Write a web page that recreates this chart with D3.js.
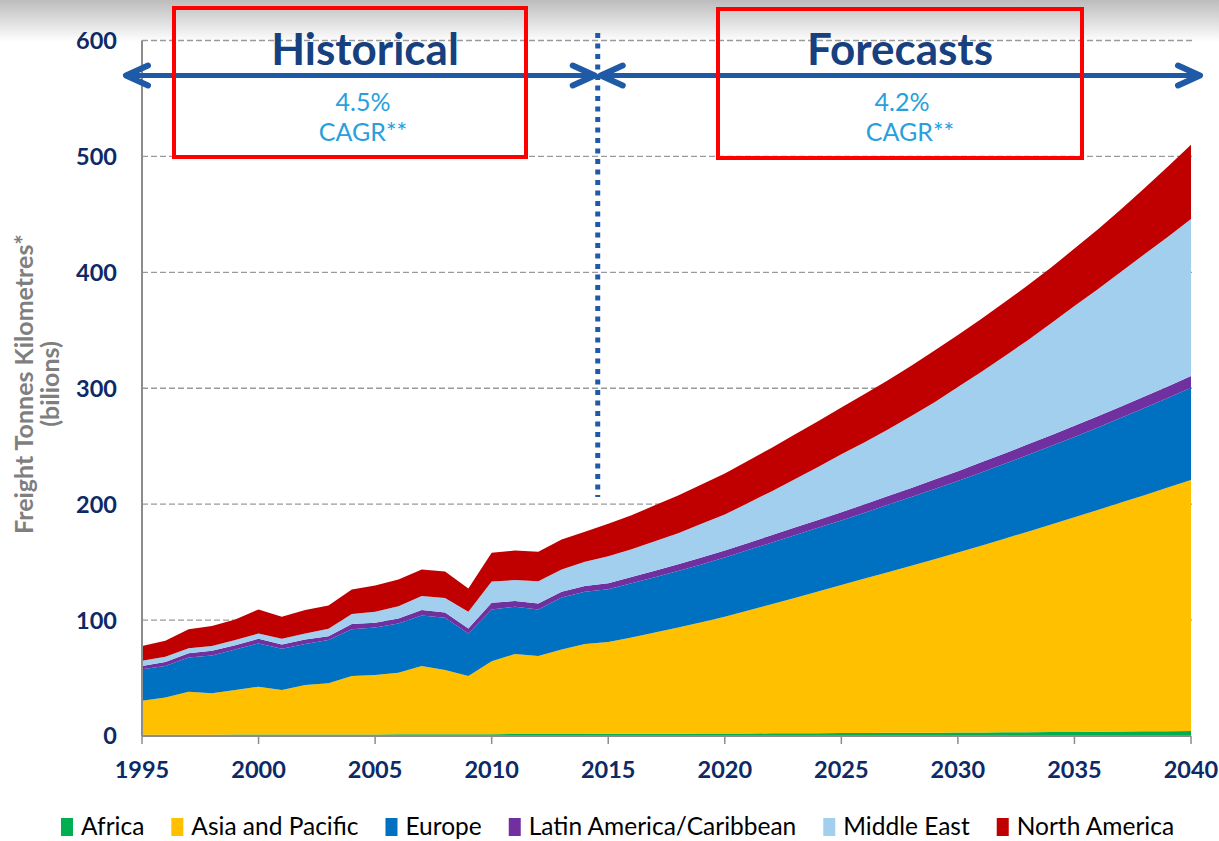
<!DOCTYPE html>
<html><head><meta charset="utf-8">
<script src="https://cdn.jsdelivr.net/npm/d3@7"></script>
<style>body{margin:0;background:#fff;} svg{display:block;}</style>
</head><body>
<svg id="chart" width="1219" height="841"></svg>
<script>
const years = [1995,1996,1997,1998,1999,2000,2001,2002,2003,2004,2005,2006,2007,2008,2009,2010,2011,2012,2013,2014,2015,
  2016,2017,2018,2019,2020,2021,2022,2023,2024,2025,2026,2027,2028,2029,2030,2031,2032,2033,2034,2035,2036,2037,2038,2039,2040];
const seriesNames = ["Africa","Asia and Pacific","Europe","Latin America/Caribbean","Middle East","North America"];
const africa = [1.0,1.0,1.1,1.1,1.2,1.2,1.2,1.3,1.3,1.4,1.4,1.5,1.5,1.5,1.5,1.6,1.7,1.7,1.8,1.8,1.9,
  1.9,2.0,2.0,2.1,2.2,2.2,2.3,2.4,2.4,2.5,2.6,2.7,2.8,2.9,3.0,3.1,3.2,3.3,3.4,3.5,3.7,3.8,4.0,4.2,4.4];
const asiaPacific = [29.4,32.3,37.1,35.7,38.5,41.3,38.5,42.7,44.1,50.3,51.2,53.1,58.8,55.4,50.2,62.8,69.0,67.3,72.9,77.5,79.1,
  83.1,87.3,91.7,96.1,100.7,106.0,111.3,116.6,122.2,127.8,133.2,138.6,144.1,149.6,155.2,161.1,167.0,173.0,179.1,185.2,191.3,197.6,203.8,210.1,216.5];
const europe = [27.1,27.0,29.6,32.7,35.0,37.4,35.6,35.3,37.4,40.3,40.9,42.5,43.7,45.1,36.8,44.8,40.8,40.2,44.8,45.1,45.6,
  46.8,47.7,48.7,49.8,51.1,52.2,53.2,54.2,55.0,55.7,56.9,58.1,59.2,60.5,61.8,63.2,64.6,66.1,67.6,69.3,71.2,73.1,75.2,77.3,79.6];
const latinAmerica = [2.8,3.5,3.5,4.1,3.5,4.0,3.7,4.0,3.3,4.6,4.3,4.3,4.6,4.6,4.3,5.7,4.9,5.2,4.9,4.9,5.1,
  5.4,5.6,5.8,6.0,6.1,6.2,6.4,6.6,6.8,7.0,7.3,7.6,7.9,8.2,8.5,8.8,9.0,9.2,9.4,9.6,9.7,9.8,9.9,10.0,10.1];
const middleEast = [4.6,4.6,4.3,4.0,4.6,4.6,4.9,5.2,6.4,8.6,9.4,10.6,12.1,12.4,14.4,18.4,18.1,19.2,19.3,21.0,23.3,
  23.8,25.4,26.8,29.0,30.9,34.4,37.8,41.7,45.6,50.0,53.5,57.5,62.0,66.8,72.5,77.8,83.7,89.9,96.5,103.4,109.6,116.2,122.6,128.9,135.4];
const northAmerica = [12.7,13.8,16.4,17.2,17.8,20.7,19.0,20.1,20.1,21.2,22.6,23.0,23.0,23.0,20.1,24.7,25.5,25.3,25.8,25.8,28.0,
  29.5,31.0,32.5,34.0,35.5,36.5,37.5,38.5,39.5,40.5,41.5,42.5,43.5,44.5,45.0,45.8,46.6,47.4,48.2,49.5,51.5,54.0,57.0,60.5,64.0];
const yTicks = [0,100,200,300,400,500,600];
const xTicks = [1995,2000,2005,2010,2015,2020,2025,2030,2035,2040];
const splitYear = 2014.55;
const historicalTitle = "Historical", forecastTitle = "Forecasts";
const historicalCagr = "4.5%", forecastCagr = "4.2%", cagrText = "CAGR**";
const yTitle1 = "Freight Tonnes Kilometres*", yTitle2 = "(bilions)";
const colors = ["#00b050","#ffc000","#0070c0","#7030a0","#a3cfef","#c00000"];

const svg = d3.select("#chart");
const defs = svg.append("defs");
const grad = defs.append("linearGradient").attr("id","topgrad").attr("x1",0).attr("y1",0).attr("x2",0).attr("y2",1);
grad.append("stop").attr("offset","0%").attr("stop-color","#bcbcbc");
grad.append("stop").attr("offset","100%").attr("stop-color","#ffffff");
svg.append("rect").attr("x",0).attr("y",0).attr("width",1219).attr("height",42).attr("fill","url(#topgrad)");

const x = d3.scaleLinear().domain([1995,2040]).range([142,1191]);
const y = d3.scaleLinear().domain([0,600]).range([736,40.5]);

const allSeries = [africa, asiaPacific, europe, latinAmerica, middleEast, northAmerica];
const rows = years.map((yr,i) => {
  const r = {year: yr};
  seriesNames.forEach((n,k) => r[n] = allSeries[k][i]);
  return r;
});
const stacked = d3.stack().keys(seriesNames)(rows);

// gridlines
svg.append("g").selectAll("line").data(yTicks.filter(t => t > 0)).join("line")
  .attr("x1", x(1995)).attr("x2", 1195).attr("y1", d => y(d)).attr("y2", d => y(d))
  .attr("stroke","#9a9a9a").attr("stroke-width",1.3).attr("stroke-dasharray","6,3");

// areas
const area = d3.area().x(d => x(d.data.year)).y0(d => y(d[0])).y1(d => y(d[1]));
svg.append("g").selectAll("path").data(stacked).join("path")
  .attr("d", area).attr("fill", (d,i) => colors[i]);

// axes
svg.append("line").attr("x1", x(1995)).attr("x2", x(1995)).attr("y1", y(600)).attr("y2", y(0))
  .attr("stroke","#8c8c8c").attr("stroke-width",2);
svg.append("line").attr("x1", x(1995)).attr("x2", x(2040)).attr("y1", y(0)).attr("y2", y(0))
  .attr("stroke","#8c8c8c").attr("stroke-width",2);
svg.append("g").selectAll("line").data(xTicks).join("line")
  .attr("x1", d => x(d)).attr("x2", d => x(d)).attr("y1", y(0)).attr("y2", y(0) + 8)
  .attr("stroke","#8c8c8c").attr("stroke-width",1.5);

const navy = "#0c2a66";
svg.append("g").selectAll("text").data(xTicks).join("text")
  .attr("x", d => x(d)).attr("y", 778).attr("text-anchor","middle")
  .attr("font-family","Lato, sans-serif").attr("font-weight","bold").attr("font-size",23.5)
  .attr("fill", navy).text(d => d);
svg.append("g").selectAll("text").data(yTicks).join("text")
  .attr("x", 117).attr("y", d => y(d)).attr("dy","0.36em").attr("text-anchor","end")
  .attr("font-family","Lato, sans-serif").attr("font-weight","bold").attr("font-size",23.5)
  .attr("fill", navy).text(d => d);

// y title
const yt = svg.append("g").attr("transform","translate(0,384)");
yt.append("text").attr("transform","translate(24,0) rotate(-90)").attr("text-anchor","middle").attr("dy","0.36em")
  .attr("font-family","Lato, sans-serif").attr("font-weight","bold").attr("font-size",25).attr("fill","#7f7f7f")
  .text(yTitle1);
yt.append("text").attr("transform","translate(50,0) rotate(-90)").attr("text-anchor","middle").attr("dy","0.36em")
  .attr("font-family","Lato, sans-serif").attr("font-weight","bold").attr("font-size",25).attr("fill","#7f7f7f")
  .text(yTitle2);

// dotted divider
const blue = "#1f5aa6";
svg.append("line").attr("x1", x(splitYear)).attr("x2", x(splitYear)).attr("y1", 33).attr("y2", 497)
  .attr("stroke", blue).attr("stroke-width",5).attr("stroke-dasharray","5,5.5");

// arrows
const ay = 75.5;
function arrow(x1, x2) {
  const g = svg.append("g").attr("stroke", blue).attr("fill","none").attr("stroke-linecap","round").attr("stroke-linejoin","round");
  g.append("line").attr("x1", x1 + 2).attr("x2", x2 - 2).attr("y1", ay).attr("y2", ay).attr("stroke-width",5);
  g.append("path").attr("d", `M${x1+22},${ay-10} L${x1},${ay} L${x1+22},${ay+10}`).attr("stroke-width",6);
  g.append("path").attr("d", `M${x2-22},${ay-10} L${x2},${ay} L${x2-22},${ay+10}`).attr("stroke-width",6);
}
arrow(x(1995) - 16, x(splitYear) - 3);
arrow(x(splitYear) + 3, x(2040) + 9);

// red boxes
svg.append("rect").attr("x",174).attr("y",8).attr("width",352).attr("height",149)
  .attr("fill","none").attr("stroke","#ff0000").attr("stroke-width",4);
svg.append("rect").attr("x",718).attr("y",9).attr("width",364).attr("height",149)
  .attr("fill","none").attr("stroke","#ff0000").attr("stroke-width",4);

const titleColor = "#17407e";
svg.append("text").attr("x",365).attr("y",65).attr("text-anchor","middle")
  .attr("font-family","Lato, sans-serif").attr("font-weight","bold").attr("font-size",44).attr("fill",titleColor).text(historicalTitle);
svg.append("text").attr("x",900).attr("y",65).attr("text-anchor","middle")
  .attr("font-family","Lato, sans-serif").attr("font-weight","bold").attr("font-size",44).attr("fill",titleColor).text(forecastTitle);

const cagrColor = "#27a0dc";
[[363,historicalCagr],[902,forecastCagr]].forEach(([cx,t]) => {
  svg.append("text").attr("x",cx).attr("y",111).attr("text-anchor","middle")
    .attr("font-family","Lato, sans-serif").attr("font-size",25).attr("fill",cagrColor).text(t);
});
[[363],[910]].forEach(([cx]) => {
  svg.append("text").attr("x",cx).attr("y",141).attr("text-anchor","middle")
    .attr("font-family","Lato, sans-serif").attr("font-size",25).attr("fill",cagrColor).text(cagrText);
});

// legend
let lx = 61;
const leg = svg.append("g");
seriesNames.forEach((n,i) => {
  leg.append("rect").attr("x", lx).attr("y", 818).attr("width", 12).attr("height", 18).attr("fill", colors[i]);
  const t = leg.append("text").attr("x", lx + 20).attr("y", 835)
    .attr("font-family","Lato, sans-serif").attr("font-size",24.5).attr("fill","#000").text(n);
  lx = lx + 20 + t.node().getComputedTextLength() + 27;
});
</script>
</body></html>
